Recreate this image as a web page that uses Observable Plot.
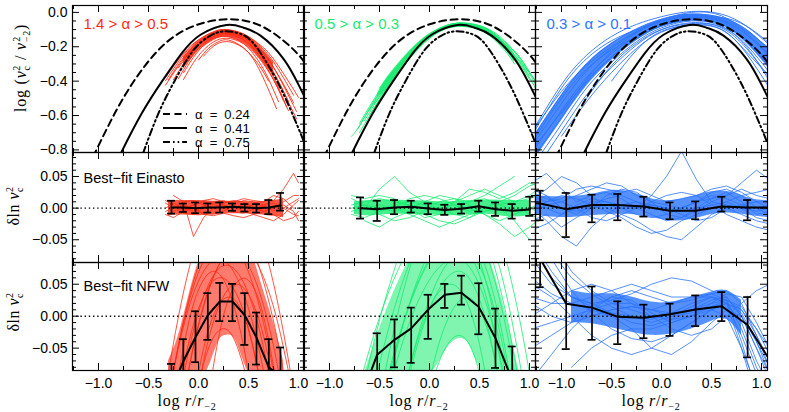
<!DOCTYPE html>
<html>
<head>
<meta charset="utf-8">
<script src="https://cdn.jsdelivr.net/npm/d3@7"></script>
<script src="https://cdn.jsdelivr.net/npm/@observablehq/plot@0.6"></script>
<style>
html,body{margin:0;padding:0;background:#fff;}
#chart{position:relative;width:789px;height:412px;overflow:hidden;background:#fff;}
</style>
</head>
<body>
<div id="chart"></div>
<script>
// ================= DATA =================
const xDomain = [-1.26, 1.06];
const topYDomain = [-0.815, 0.04];
const midYDomain = [-0.086, 0.088];
const botYDomain = [-0.085, 0.084];

const xMajorTicks = [-1.0, -0.5, 0, 0.5, 1.0];
const xMinorTicks = [-1.25, -0.75, -0.25, 0.25, 0.75];
const xTickLabels = ["−1.0", "−0.5", "0.0", "0.5", "1.0"];
const topYMajor = [0, -0.2, -0.4, -0.6, -0.8];
const topYLabels = ["0.0", "−0.2", "−0.4", "−0.6", "−0.8"];
const topYMinor = [-0.75, -0.7, -0.65, -0.55, -0.5, -0.45, -0.35, -0.3, -0.25, -0.15, -0.1, -0.05];
const resYMajor = [0.05, 0, -0.05];
const resYLabels = ["0.05", "0.00", "−0.05"];
const resYMinor = [-0.08, -0.07, -0.06, -0.04, -0.03, -0.02, -0.01, 0.01, 0.02, 0.03, 0.04, 0.06, 0.07, 0.08];

const panelLabels = ["1.4 > α > 0.5", "0.5 > α > 0.3", "0.3 > α > 0.1"];
const rowLabels = ["Best−fit Einasto", "Best−fit NFW"];
const legendLabels = ["α = 0.24", "α = 0.41", "α = 0.75"];

// Einasto template curves (top row, same in every column)
const alpha024X = [-1.26, -1.04, -0.84, -0.62, -0.35, -0.05, 0.29, 0.63, 0.92, 1.06];
const alpha024Y = [-1.08, -0.823, -0.59, -0.378, -0.19, -0.08, -0.04, -0.08, -0.2, -0.29];
const alpha041X = [-0.85, -0.78, -0.57, -0.36, -0.17, 0.02, 0.28, 0.45, 0.62, 0.85, 1.0, 1.06];
const alpha041Y = [-0.91, -0.824, -0.59, -0.397, -0.24, -0.13, -0.073, -0.089, -0.135, -0.27, -0.42, -0.49];
const alpha075X = [-0.62, -0.557, -0.41, -0.24, -0.05, 0.12, 0.26, 0.42, 0.55, 0.70, 0.87, 1.06];
const alpha075Y = [-0.925, -0.824, -0.6, -0.40, -0.22, -0.135, -0.11, -0.125, -0.18, -0.31, -0.50, -0.76];

// top-left: individual halo curves (1.4 > alpha > 0.5)
const redFitLines = [
 [[-0.33,-0.398],[-0.15,-0.248],[0,-0.162],[0.15,-0.114],[0.28,-0.10],[0.45,-0.125],[0.6,-0.187],[0.75,-0.288],[0.95,-0.482]],
 [[-0.3,-0.391],[-0.15,-0.262],[0,-0.171],[0.15,-0.119],[0.28,-0.105],[0.45,-0.127],[0.6,-0.182],[0.75,-0.271],[1.0,-0.494]],
 [[-0.25,-0.391],[-0.1,-0.254],[0,-0.188],[0.15,-0.127],[0.28,-0.11],[0.45,-0.138],[0.6,-0.207],[0.75,-0.32],[0.98,-0.576]],
 [[-0.2,-0.322],[-0.1,-0.245],[0,-0.185],[0.15,-0.13],[0.28,-0.115],[0.45,-0.145],[0.6,-0.222],[0.75,-0.347],[0.9,-0.518]],
 [[-0.2,-0.385],[-0.1,-0.286],[0,-0.21],[0.15,-0.14],[0.28,-0.12],[0.45,-0.146],[0.6,-0.212],[0.75,-0.319],[0.95,-0.524]],
 [[-0.33,-0.423],[-0.15,-0.273],[0,-0.187],[0.15,-0.139],[0.28,-0.125],[0.45,-0.16],[0.6,-0.247],[0.75,-0.39],[0.85,-0.515]],
 [[-0.15,-0.352],[-0.05,-0.261],[0.05,-0.193],[0.15,-0.15],[0.28,-0.13],[0.45,-0.159],[0.6,-0.232],[0.75,-0.351],[0.98,-0.62]],
 [[-0.1,-0.284],[0,-0.218],[0.15,-0.157],[0.28,-0.14],[0.45,-0.181],[0.6,-0.283],[0.7,-0.387],[0.8,-0.519]],
 [[-0.15,-0.391],[-0.05,-0.292],[0.05,-0.219],[0.15,-0.172],[0.28,-0.15],[0.45,-0.182],[0.6,-0.262],[0.75,-0.393],[0.9,-0.572]],
 [[0,-0.277],[0.1,-0.209],[0.2,-0.17],[0.3,-0.161],[0.45,-0.206],[0.6,-0.324],[0.78,-0.56]],
 [[0.05,-0.255],[0.15,-0.197],[0.28,-0.17],[0.45,-0.208],[0.6,-0.303],[0.7,-0.399]],
 [[-0.33,-0.379],[-0.15,-0.239],[0,-0.159],[0.15,-0.113],[0.28,-0.10],[0.45,-0.136],[0.6,-0.228],[0.75,-0.376],[0.88,-0.55]]
];
const redCoreX = [-0.15, 0, 0.15, 0.28, 0.45, 0.6, 0.75];
const redCoreHi = [-0.26, -0.17, -0.12, -0.105, -0.13, -0.19, -0.29];
const redCoreLo = [-0.33, -0.22, -0.16, -0.145, -0.18, -0.26, -0.37];

// top-middle (0.5 > alpha > 0.3)
const greenFitLines = [
 [[-0.7,-0.645],[-0.5,-0.455],[-0.3,-0.297],[-0.1,-0.17],[0.1,-0.093],[0.28,-0.063],[0.45,-0.075],[0.6,-0.105],[0.75,-0.18],[0.9,-0.26],[1.06,-0.42]],
 [[-0.6,-0.57],[-0.5,-0.48],[-0.3,-0.32],[-0.1,-0.185],[0.1,-0.10],[0.28,-0.068],[0.45,-0.08],[0.6,-0.118],[0.75,-0.2],[0.9,-0.30],[1.0,-0.39]],
 [[-0.7,-0.70],[-0.5,-0.505],[-0.3,-0.335],[-0.1,-0.195],[0.1,-0.105],[0.28,-0.075],[0.45,-0.085],[0.6,-0.12],[0.75,-0.195],[0.88,-0.28]],
 [[-0.5,-0.44],[-0.3,-0.30],[-0.1,-0.175],[0.1,-0.095],[0.28,-0.062],[0.45,-0.07],[0.6,-0.105],[0.75,-0.17],[0.9,-0.26],[1.06,-0.40]],
 [[-0.55,-0.53],[-0.3,-0.345],[-0.1,-0.2],[0.1,-0.11],[0.28,-0.08],[0.45,-0.09],[0.6,-0.135],[0.75,-0.22],[0.85,-0.30]],
 [[-0.78,-0.72],[-0.7,-0.66],[-0.5,-0.47],[-0.3,-0.31],[-0.1,-0.18],[0.1,-0.1],[0.28,-0.07],[0.45,-0.078],[0.6,-0.115],[0.75,-0.19],[0.9,-0.285],[1.0,-0.37]],
 [[-0.45,-0.46],[-0.3,-0.34],[-0.1,-0.205],[0.1,-0.112],[0.28,-0.082],[0.45,-0.092],[0.6,-0.13],[0.75,-0.2],[0.9,-0.29],[1.06,-0.44]],
 [[-0.65,-0.63],[-0.5,-0.49],[-0.3,-0.325],[-0.1,-0.19],[0.1,-0.10],[0.28,-0.065],[0.45,-0.07],[0.6,-0.1],[0.75,-0.165],[0.9,-0.27],[1.06,-0.40]],
 [[-0.6,-0.60],[-0.5,-0.51],[-0.3,-0.34],[-0.1,-0.198],[0.1,-0.108],[0.28,-0.078],[0.45,-0.088],[0.6,-0.128],[0.75,-0.21],[0.82,-0.26]],
 [[-0.72,-0.68],[-0.5,-0.465],[-0.3,-0.305],[-0.1,-0.178],[0.1,-0.098],[0.28,-0.066],[0.45,-0.076],[0.6,-0.112],[0.75,-0.185],[0.9,-0.28],[0.98,-0.34]]
];
const greenCoreX = [-0.52, -0.45, -0.3, -0.1, 0.1, 0.28, 0.45, 0.6, 0.75, 0.85];
const greenCoreHi = [-0.475, -0.4, -0.29, -0.17, -0.093, -0.063, -0.072, -0.106, -0.175, -0.24];
const greenCoreLo = [-0.49, -0.46, -0.345, -0.2, -0.108, -0.078, -0.089, -0.13, -0.21, -0.29];

// top-right (0.3 > alpha > 0.1)
const blueFitX = [-1.3, -1.0, -0.75, -0.5, -0.25, 0, 0.3, 0.6, 0.85, 1.08];
const blueFitLines = [
 [-0.70, -0.42, -0.25, -0.14, -0.07, -0.025, 0.005, -0.01, -0.08, -0.19],
 [-0.74, -0.48, -0.30, -0.18, -0.095, -0.04, -0.01, -0.03, -0.10, -0.22],
 [-0.78, -0.53, -0.34, -0.21, -0.115, -0.055, -0.02, -0.045, -0.13, -0.26],
 [-0.82, -0.57, -0.38, -0.24, -0.135, -0.065, -0.03, -0.055, -0.15, -0.29],
 [-0.86, -0.61, -0.41, -0.26, -0.15, -0.075, -0.04, -0.065, -0.17, -0.32],
 [-0.90, -0.65, -0.44, -0.29, -0.17, -0.09, -0.05, -0.08, -0.19, -0.35],
 [-0.95, -0.69, -0.48, -0.32, -0.19, -0.10, -0.06, -0.09, -0.21, -0.38],
 [null, -0.72, -0.52, -0.35, -0.21, -0.115, -0.07, -0.10, -0.23, -0.37],
 [-0.72, -0.44, -0.27, -0.165, -0.10, -0.05, -0.025, -0.05, -0.13, -0.25],
 [-0.80, -0.58, -0.40, -0.26, -0.155, -0.08, -0.035, -0.03, -0.08, -0.18],
 [null, -0.59, -0.39, -0.23, -0.12, -0.045, 0.0, -0.02, -0.12, -0.24],
 [-0.76, -0.50, -0.33, -0.22, -0.14, -0.08, -0.045, -0.07, -0.16, -0.30],
 [null, null, -0.5, -0.31, -0.18, -0.1, -0.065, -0.085, -0.2, -0.40],
 [-0.70, -0.46, -0.31, -0.20, -0.11, -0.05, -0.015, -0.04, -0.11, -0.21],
 [null, null, null, -0.40, -0.22, -0.11, -0.075, -0.10, -0.24, -0.44]
];
const blueCoreX = [-1.3, -1.0, -0.75, -0.5, -0.25, 0, 0.3, 0.6, 0.85, 1.08];
const blueCoreHi = [-0.74, -0.48, -0.30, -0.18, -0.10, -0.04, -0.01, -0.03, -0.10, -0.22];
const blueCoreLo = [-0.88, -0.63, -0.43, -0.28, -0.165, -0.085, -0.05, -0.075, -0.18, -0.33];

// middle row: residuals w.r.t. best-fit Einasto
const redEinX = [-0.33, -0.25, -0.15, -0.05, 0.05, 0.15, 0.25, 0.35, 0.45, 0.55, 0.65, 0.75, 0.85, 0.95, 1.0];
const redEinLines = [
 [0.0, 0.008, 0.0, -0.005, 0.003, 0.01, 0.005, -0.002, 0.0, 0.006, 0.003, -0.004, 0.0, 0.01, 0.015],
 [-0.01, -0.015, -0.005, 0.005, 0.01, 0.006, 0.0, -0.006, -0.008, -0.002, 0.004, 0.008, 0.0, -0.01, -0.012],
 [null, 0.02, 0.01, -0.045, -0.015, 0.0, 0.005, 0.0, 0.005, 0.0, -0.005, 0.0, 0.01, 0.02, 0.02],
 [0.008, 0.0, 0.01, 0.012, 0.005, 0.0, 0.008, 0.012, 0.01, 0.002, -0.005, -0.01, -0.02, -0.015, -0.005],
 [null, null, -0.005, 0.0, -0.008, -0.01, -0.005, 0.005, 0.012, 0.01, 0.005, 0.012, 0.03, 0.055, 0.04],
 [0.012, 0.005, -0.008, -0.01, 0.0, 0.008, 0.012, 0.005, -0.005, -0.01, -0.006, 0.0, 0.005, -0.005, -0.02],
 [null, -0.005, 0.0, 0.005, 0.012, 0.015, 0.01, 0.01, 0.015, 0.012, 0.01, 0.02, 0.015, 0.0, null],
 [-0.005, 0.0, 0.005, 0.0, -0.01, -0.012, -0.008, -0.012, -0.015, -0.01, -0.015, -0.02, -0.01, 0.005, 0.012]
];
const redEinCoreX = [-0.3, -0.15, 0, 0.15, 0.3, 0.45, 0.6, 0.75, 0.85];
const redEinCoreHi = [0.012, 0.012, 0.012, 0.011, 0.011, 0.01, 0.01, 0.012, 0.015];
const redEinCoreLo = [-0.012, -0.011, -0.012, -0.01, -0.009, -0.009, -0.01, -0.013, -0.015];
const redBarX = [-0.27, -0.152, -0.03, 0.093, 0.213, 0.34, 0.463, 0.58, 0.703, 0.82];
const redEinMean = [0.001, 0.001, 0.0, 0.001, 0.001, 0.002, 0.001, 0.0, 0.001, 0.004];
const redEinLo = [-0.0086, -0.006, -0.008, -0.007, -0.007, -0.0043, -0.0054, -0.007, -0.0096, -0.004];
const redEinHi = [0.0117, 0.0073, 0.009, 0.0074, 0.009, 0.0074, 0.0064, 0.0064, 0.0128, 0.024];

const greenEinX = [-0.78, -0.65, -0.5, -0.35, -0.2, -0.05, 0.1, 0.25, 0.4, 0.55, 0.7, 0.85, 1.0, 1.08];
const greenEinLines = [
 [0.005, 0.01, 0.015, 0.01, 0.005, 0.0, -0.005, 0.0, 0.01, 0.015, 0.005, -0.005, 0.0, 0.005],
 [-0.01, -0.015, -0.005, 0.005, 0.01, 0.005, 0.0, -0.01, -0.015, -0.005, 0.005, 0.01, 0.015, 0.02],
 [null, 0.0, 0.03, 0.05, 0.025, 0.01, 0.005, 0.01, 0.02, 0.03, 0.02, 0.01, 0.02, 0.03],
 [0.015, 0.005, -0.01, -0.02, -0.015, -0.005, 0.0, 0.005, 0.0, -0.01, -0.025, -0.045, -0.03, -0.02],
 [null, null, -0.005, 0.0, 0.015, 0.02, 0.015, 0.005, -0.005, 0.0, 0.01, 0.02, 0.035, 0.04],
 [0.0, 0.005, 0.0, -0.005, 0.0, 0.01, 0.02, 0.015, 0.005, -0.01, -0.02, -0.01, 0.0, -0.005],
 [null, -0.02, -0.03, -0.015, -0.005, -0.01, -0.02, -0.025, -0.015, 0.0, 0.01, 0.005, -0.01, -0.015],
 [0.02, 0.015, 0.02, 0.015, 0.0, -0.015, -0.01, 0.01, 0.03, 0.025, 0.015, 0.025, 0.04, 0.035],
 [null, null, null, 0.01, 0.005, 0.0, 0.01, 0.015, 0.01, 0.02, 0.035, 0.05, null, null],
 [-0.005, 0.0, 0.005, 0.0, -0.01, -0.02, -0.03, -0.02, -0.01, -0.005, 0.0, -0.02, -0.05, null]
];
const greenEinCoreX = [-0.75, -0.6, -0.4, -0.2, 0.0, 0.2, 0.4, 0.6, 0.8, 1.0];
const greenEinCoreHi = [0.01, 0.012, 0.013, 0.012, 0.011, 0.01, 0.012, 0.013, 0.012, 0.012];
const greenEinCoreLo = [-0.01, -0.012, -0.01, -0.01, -0.011, -0.012, -0.011, -0.01, -0.014, -0.012];
const greenBarX = [-0.69, -0.523, -0.35, -0.183, -0.013, 0.153, 0.32, 0.493, 0.66, 0.827, 1.003];
const greenEinMean = [0.0, -0.0016, 0.001, 0.002, -0.0006, -0.003, -0.001, 0.003, -0.0016, -0.004, -0.002];
const greenEinLo = [-0.0166, -0.0203, -0.0096, -0.007, -0.0096, -0.0107, -0.0086, -0.0054, -0.0123, -0.0166, -0.0123];
const greenEinHi = [0.017, 0.0117, 0.0128, 0.0117, 0.0074, 0.0053, 0.0064, 0.0117, 0.009, 0.0064, 0.018];

const blueEinX = [-1.3, -1.15, -1.0, -0.85, -0.7, -0.55, -0.4, -0.25, -0.1, 0.05, 0.2, 0.35, 0.5, 0.65, 0.8, 0.95, 1.08];
const blueEinLines = [
 [0.01, 0.02, 0.0, -0.01, 0.005, 0.015, 0.02, 0.01, 0.0, -0.005, 0.0, 0.01, 0.02, 0.015, 0.005, 0.0, 0.005],
 [-0.02, -0.01, -0.03, -0.015, 0.0, 0.02, 0.03, 0.025, 0.01, -0.01, -0.015, 0.0, 0.015, 0.025, 0.01, -0.01, -0.005],
 [0.04, 0.055, 0.03, 0.01, 0.02, 0.025, 0.015, 0.0, -0.01, -0.02, -0.015, -0.005, 0.01, 0.02, 0.03, 0.02, 0.015],
 [0.0, -0.02, -0.045, -0.06, -0.03, -0.01, 0.005, 0.01, 0.005, 0.0, -0.005, 0.0, 0.005, 0.01, 0.0, -0.015, -0.02],
 [0.02, 0.01, 0.015, 0.03, 0.035, 0.03, 0.025, 0.03, 0.02, 0.01, 0.015, 0.02, 0.03, 0.035, 0.025, 0.01, 0.0],
 [-0.01, 0.005, 0.01, 0.0, -0.015, -0.02, -0.01, -0.02, -0.035, -0.045, -0.05, -0.03, -0.01, 0.0, -0.01, -0.02, -0.025],
 [0.005, 0.0, -0.01, 0.0, 0.01, 0.01, 0.0, 0.0, 0.02, 0.05, 0.09, 0.045, 0.01, 0.005, 0.0, -0.005, 0.0],
 [0.03, 0.02, 0.0, -0.005, 0.0, 0.005, 0.0, -0.01, -0.015, -0.01, 0.0, 0.01, 0.015, 0.02, 0.04, 0.06, 0.045],
 [-0.035, -0.025, -0.01, 0.005, 0.015, 0.01, 0.005, 0.0, 0.005, 0.0, -0.01, -0.02, -0.015, 0.0, 0.005, 0.01, 0.01],
 [0.015, 0.03, 0.05, 0.04, 0.02, 0.0, -0.01, 0.0, 0.01, 0.02, 0.025, 0.02, 0.005, -0.01, -0.02, -0.03, -0.035],
 [0.0, 0.01, 0.02, 0.015, 0.005, -0.005, -0.015, -0.03, -0.04, -0.035, -0.02, -0.01, 0.0, 0.01, 0.02, 0.025, 0.03],
 [0.025, 0.015, 0.01, 0.02, 0.03, 0.04, 0.035, 0.02, 0.01, 0.005, 0.0, 0.01, 0.025, 0.03, 0.02, 0.0, -0.01]
];
const blueEinCoreX = [-1.3, -1.0, -0.7, -0.5, -0.3, -0.1, 0.1, 0.3, 0.5, 0.7, 0.9, 1.08];
const blueEinCoreHi = [0.02, 0.018, 0.022, 0.028, 0.025, 0.015, 0.012, 0.018, 0.026, 0.025, 0.015, 0.012];
const blueEinCoreLo = [-0.01, -0.015, -0.012, -0.01, -0.01, -0.015, -0.02, -0.018, -0.01, -0.008, -0.012, -0.015];
const blueBarX = [-1.47, -1.214, -0.953, -0.695, -0.437, -0.176, 0.085, 0.342, 0.603, 0.861, 1.12];
const blueEinMean = [0.009, 0.0074, -0.0016, 0.0048, 0.0048, 0.0026, -0.0043, -0.0043, 0.0026, 0.001, 0.001];
const blueEinLo = [-0.02, -0.0192, -0.0458, -0.0224, -0.0192, -0.0134, -0.0176, -0.0176, -0.0054, -0.0192, -0.02];
const blueEinHi = [0.04, 0.0276, 0.024, 0.0212, 0.0224, 0.018, 0.009, 0.0106, 0.018, 0.0128, 0.02];

// bottom row: residuals w.r.t. best-fit NFW
const redNfwX = [-0.4, -0.25, -0.1, 0.05, 0.2, 0.35, 0.5, 0.65, 0.8, 0.95];
const redNfwLines = [
 [-0.188, -0.042, 0.071, 0.148, 0.191, 0.199, 0.172, 0.111, 0.015, -0.115],
 [-0.232, -0.086, 0.025, 0.101, 0.142, 0.148, 0.119, 0.054, -0.045, -0.18],
 [-0.226, -0.085, 0.020, 0.087, 0.118, 0.112, 0.069, -0.011, -0.128, null],
 [null, -0.231, -0.086, 0.017, 0.079, 0.10, 0.079, 0.017, -0.086, -0.231],
 [null, -0.184, -0.056, 0.030, 0.074, 0.075, 0.035, -0.049, -0.174, null],
 [null, -0.163, -0.043, 0.031, 0.060, 0.043, -0.019, -0.127, null, null],
 [null, null, -0.206, -0.071, 0.014, 0.049, 0.034, -0.031, -0.146, null],
 [null, null, -0.176, -0.051, 0.017, 0.027, -0.022, -0.128, null, null],
 [null, null, -0.189, -0.075, -0.023, -0.034, -0.106, null, null, null],
 [-0.223, -0.086, 0.012, 0.070, 0.09, 0.070, 0.012, -0.086, -0.223, null],
 [null, -0.22, -0.085, 0.014, 0.079, 0.108, 0.102, 0.061, -0.015, -0.126],
 [null, null, null, -0.18, -0.034, 0.045, 0.056, 0.0, -0.124, null],
 [null, -0.138, -0.011, 0.057, 0.067, 0.018, -0.089, -0.255, null, null]
];
const redNfwCoreX = [-0.3, -0.2, -0.1, 0.0, 0.1, 0.2, 0.28, 0.36, 0.45, 0.55, 0.65, 0.75, 0.85];
const redNfwCoreHi = [-0.07, -0.03, 0.03, 0.085, 0.12, 0.14, 0.145, 0.14, 0.12, 0.09, 0.04, -0.01, -0.07];
const redNfwCoreLo = [-0.1, -0.1, -0.1, -0.1, -0.08, -0.04, -0.03, -0.035, -0.07, -0.1, -0.1, -0.1, -0.1];
const redNfwMean = [-0.115, -0.0706, -0.033, 0.0015, 0.023, 0.023, 0.0015, -0.0335, -0.08, -0.095];
const redNfwLo = [-0.155, -0.105, -0.072, -0.037, -0.0077, -0.0077, -0.045, -0.0757, -0.12, -0.14];
const redNfwHi = [-0.0747, -0.036, 0.0077, 0.036, 0.052, 0.0505, 0.036, 0.0057, -0.036, -0.049];

const greenNfwX = [-0.7, -0.55, -0.4, -0.25, -0.1, 0.05, 0.2, 0.35, 0.5, 0.65, 0.8, 0.95, 1.1];
const greenNfwLines = [
 [-0.14, -0.037, 0.049, 0.118, 0.171, 0.207, 0.226, 0.228, 0.204, 0.150, 0.067, -0.045, -0.186],
 [-0.223, -0.109, -0.014, 0.062, 0.119, 0.158, 0.177, 0.176, 0.144, 0.077, -0.023, -0.157, null],
 [-0.349, -0.213, -0.099, -0.006, 0.065, 0.115, 0.143, 0.149, 0.122, 0.057, -0.046, -0.187, null],
 [null, -0.20, -0.091, -0.005, 0.059, 0.10, 0.119, 0.111, 0.064, -0.024, -0.152, null, null],
 [null, null, -0.238, -0.116, -0.022, 0.046, 0.087, 0.10, 0.078, 0.01, -0.103, -0.26, null],
 [null, null, -0.249, -0.127, -0.034, 0.029, 0.064, 0.067, 0.026, -0.065, -0.205, null, null],
 [null, null, -0.238, -0.116, -0.027, 0.028, 0.050, 0.030, -0.044, -0.172, null, null, null],
 [null, null, null, null, -0.177, -0.068, 0.001, 0.029, 0.011, -0.065, -0.199, null, null],
 [null, null, null, null, -0.19, -0.093, -0.04, -0.034, -0.09, -0.214, null, null, null],
 [-0.328, -0.179, -0.054, 0.046, 0.121, 0.171, 0.196, 0.197, 0.166, 0.104, 0.011, -0.114, null],
 [-0.294, -0.18, -0.083, -0.005, 0.056, 0.099, 0.123, 0.130, 0.101, 0.028, -0.091, -0.254, null],
 [-0.333, -0.213, -0.112, -0.032, 0.028, 0.068, 0.088, 0.085, 0.048, -0.026, -0.135, null, null],
 [-0.107, -0.026, 0.041, 0.093, 0.130, 0.153, 0.16, 0.142, 0.088, -0.002, -0.128, null, null]
];
const greenNfwCoreX = [-0.65, -0.5, -0.35, -0.2, -0.05, 0.1, 0.2, 0.3, 0.4, 0.5, 0.6, 0.7, 0.8, 0.9];
const greenNfwCoreHi = [-0.09, -0.02, 0.04, 0.09, 0.13, 0.15, 0.16, 0.16, 0.15, 0.13, 0.09, 0.04, -0.02, -0.09];
const greenNfwCoreLo = [-0.1, -0.1, -0.1, -0.1, -0.1, -0.07, -0.045, -0.035, -0.045, -0.08, -0.1, -0.1, -0.1, -0.1];
const greenNfwMean = [-0.13, -0.0603, -0.037, -0.019, 0.0103, 0.0335, 0.0366, 0.0144, -0.0345, -0.10, -0.2];
const greenNfwLo = [-0.17, -0.094, -0.08, -0.073, -0.0355, 0.0129, 0.018, -0.0283, -0.081, -0.15, -0.26];
const greenNfwHi = [-0.09, -0.0268, -0.0051, 0.0134, 0.0335, 0.0505, 0.0634, 0.0515, 0.0119, -0.0474, -0.14];

const blueNfwX = [-1.3, -1.1, -0.9, -0.7, -0.5, -0.3, -0.1, 0.1, 0.3, 0.5, 0.65, 0.8, 0.95, 1.08];
const blueNfwLines = [
 [0.09, 0.05, 0.03, 0.02, 0.005, -0.01, -0.015, -0.005, 0.01, 0.025, 0.03, 0.0, -0.05, -0.09],
 [null, 0.1, 0.06, 0.035, 0.015, 0.0, -0.01, 0.0, 0.015, 0.03, 0.025, -0.02, -0.08, -0.12],
 [0.02, 0.0, -0.01, 0.0, 0.01, 0.015, 0.01, 0.005, 0.01, 0.02, 0.025, 0.01, -0.03, -0.07],
 [-0.05, -0.03, -0.01, 0.015, 0.03, 0.025, 0.005, -0.01, 0.0, 0.02, 0.035, 0.03, -0.01, -0.05],
 [0.15, 0.09, 0.04, 0.005, -0.02, -0.035, -0.04, -0.03, -0.01, 0.01, 0.02, -0.01, -0.07, -0.11],
 [-0.1, -0.06, -0.02, 0.01, 0.03, 0.04, 0.03, 0.02, 0.025, 0.035, 0.04, 0.02, -0.03, -0.08],
 [0.06, 0.035, 0.02, 0.01, 0.0, -0.02, -0.05, -0.06, -0.04, -0.01, 0.01, 0.0, -0.04, -0.09],
 [0.12, 0.07, 0.03, 0.02, 0.025, 0.035, 0.05, 0.06, 0.055, 0.04, 0.03, 0.0, -0.05, -0.1],
 [-0.02, -0.01, 0.0, 0.01, 0.02, 0.02, 0.01, 0.0, 0.005, 0.015, 0.025, 0.015, -0.02, -0.06],
 [0.03, 0.02, 0.02, 0.03, 0.04, 0.05, 0.04, 0.03, 0.03, 0.03, 0.02, -0.03, -0.09, null],
 [null, null, -0.08, -0.05, -0.03, -0.02, -0.02, -0.01, 0.0, 0.015, 0.02, 0.005, -0.04, -0.08],
 [0.2, 0.12, 0.07, 0.04, 0.02, 0.01, 0.0, -0.005, 0.0, 0.01, 0.0, -0.05, -0.11, null],
 [0.0, 0.02, 0.04, 0.05, 0.04, 0.02, 0.0, -0.02, -0.03, -0.02, 0.0, 0.02, 0.04, 0.05],
 [0.05, 0.03, 0.0, -0.03, -0.05, -0.06, -0.05, -0.03, -0.01, 0.01, 0.02, 0.01, -0.02, -0.05],
 [null, null, null, 0.0, 0.01, 0.015, 0.01, 0.02, 0.03, 0.035, 0.025, -0.04, -0.12, null],
 [0.11, 0.06, 0.03, 0.015, 0.005, 0.0, -0.005, 0.005, 0.02, 0.03, 0.02, -0.05, -0.13, null]
];
const blueNfwCoreX = [-0.9, -0.7, -0.5, -0.3, -0.1, 0.1, 0.3, 0.5, 0.65, 0.8];
const blueNfwCoreHi = [0.04, 0.035, 0.035, 0.03, 0.022, 0.022, 0.03, 0.038, 0.04, 0.025];
const blueNfwCoreLo = [-0.01, -0.012, -0.018, -0.025, -0.03, -0.028, -0.02, -0.008, -0.005, -0.03];
const blueNfwBarX = [-1.214, -0.953, -0.695, -0.437, -0.176, 0.085, 0.342, 0.603, 0.861, 1.12];
const blueNfwMean = [0.09, 0.0196, 0.0134, -0.001, -0.0026, 0.003, 0.0103, 0.0155, -0.0139, -0.078];
const blueNfwLo = [0.0453, -0.0515, -0.037, -0.0438, -0.0345, -0.0309, -0.0155, -0.0077, -0.0644, -0.12];
const blueNfwHi = [0.135, 0.091, 0.0464, 0.0232, 0.018, 0.0196, 0.0325, 0.0376, 0.0299, -0.03];

// ================= STYLE / LAYOUT =================
const COLORS = ["#ff2a14", "#16ec70", "#2b74ff"];
const colLeft = [72, 303, 535];
const colWidth = 232;
const rowTop = [5, 152, 262];
const rowHeight = [147, 110, 108];
const CAP = 0.04;

// ================= HELPERS =================
const gridRows = (xs, lines) => lines.flatMap((ys, id) => ys.map((y, j) => ({id, x: xs[j], y})).filter(d => d.y != null));
const pairRows = (lines) => lines.flatMap((pts, id) => pts.map(([x, y]) => ({id, x, y})));
const bandRows = (xs, lo, hi) => xs.map((x, i) => ({x, lo: lo[i], hi: hi[i]}));
const barRows = (xs, mean, lo, hi) => xs.map((x, i) => ({x, mean: mean[i], lo: lo[i], hi: hi[i]}));
const curveRows = (xs, ys) => xs.map((x, i) => ({x, y: ys[i]}));

const chart = document.getElementById("chart");

function frameMarks(H, W, yMaj, yMin) {
  return [
    Plot.tickX(xMajorTicks, {x: d => d, insetTop: H - 7, stroke: "black"}),
    Plot.tickX(xMajorTicks, {x: d => d, insetBottom: H - 7, stroke: "black"}),
    Plot.tickX(xMinorTicks, {x: d => d, insetTop: H - 4, stroke: "black"}),
    Plot.tickX(xMinorTicks, {x: d => d, insetBottom: H - 4, stroke: "black"}),
    Plot.tickY(yMaj, {y: d => d, insetRight: W - 7, stroke: "black"}),
    Plot.tickY(yMaj, {y: d => d, insetLeft: W - 7, stroke: "black"}),
    Plot.tickY(yMin, {y: d => d, insetRight: W - 4, stroke: "black"}),
    Plot.tickY(yMin, {y: d => d, insetLeft: W - 4, stroke: "black"}),
    Plot.frame({stroke: "black", strokeWidth: 1.2})
  ];
}

function addPanel(col, row, yDomain, marks) {
  const W = colWidth, H = rowHeight[row];
  const svg = Plot.plot({
    width: W, height: H, margin: 0,
    x: {domain: xDomain, axis: null},
    y: {domain: yDomain, axis: null},
    style: {background: "transparent", overflow: "visible", fontFamily: "'Liberation Sans', Arial, sans-serif", fontSize: "14px", color: "black"},
    marks: marks.filter(Boolean)
  });
  svg.style.position = "absolute";
  svg.style.left = colLeft[col] + "px";
  svg.style.top = rowTop[row] + "px";
  svg.style.overflow = "visible";
  svg.style.maxWidth = "none";
  chart.appendChild(svg);
}

function modelMarks() {
  return [
    Plot.line(curveRows(alpha024X, alpha024Y), {x: "x", y: "y", stroke: "black", strokeWidth: 2, strokeDasharray: "7,4.5", curve: "natural", clip: true}),
    Plot.line(curveRows(alpha041X, alpha041Y), {x: "x", y: "y", stroke: "black", strokeWidth: 2, curve: "natural", clip: true}),
    Plot.line(curveRows(alpha075X, alpha075Y), {x: "x", y: "y", stroke: "black", strokeWidth: 2, strokeDasharray: "7,3,1.6,3,1.6,3", curve: "natural", clip: true})
  ];
}

function yLabelMarks(ticks, labels) {
  return Plot.text(ticks, {y: d => d, text: (d, i) => labels[i], frameAnchor: "left", textAnchor: "end", dx: -5, fontSize: 14, fill: "black"});
}
function xLabelMarks() {
  return Plot.text(xMajorTicks, {x: d => d, text: (d, i) => xTickLabels[i], frameAnchor: "bottom", lineAnchor: "top", dy: 8, fontSize: 14, fill: "black"});
}

function residualMarks(color, band, lines, bars, curve, bandOpacity) {
  return [
    band ? Plot.areaY(band, {x: "x", y1: "lo", y2: "hi", fill: color, fillOpacity: bandOpacity, curve: "natural", clip: true}) : null,
    Plot.line(lines, {x: "x", y: "y", z: "id", stroke: color, strokeWidth: 0.8, curve, clip: true}),
    Plot.ruleY([0], {stroke: "black", strokeWidth: 1.4, strokeDasharray: "1.4,2.8"}),
    Plot.line(bars, {x: "x", y: "mean", stroke: "black", strokeWidth: 2, clip: true}),
    Plot.ruleX(bars, {x: "x", y1: "lo", y2: "hi", stroke: "black", strokeWidth: 1.7, clip: true}),
    Plot.ruleY(bars, {y: "lo", x1: d => d.x - CAP, x2: d => d.x + CAP, stroke: "black", strokeWidth: 1.7, clip: true}),
    Plot.ruleY(bars, {y: "hi", x1: d => d.x - CAP, x2: d => d.x + CAP, stroke: "black", strokeWidth: 1.7, clip: true})
  ];
}

// ================= TOP ROW =================
const fitSets = [
  {band: bandRows(redCoreX, redCoreLo, redCoreHi), lines: pairRows(redFitLines)},
  {band: bandRows(greenCoreX, greenCoreLo, greenCoreHi), lines: pairRows(greenFitLines)},
  {band: bandRows(blueCoreX, blueCoreLo, blueCoreHi), lines: gridRows(blueFitX, blueFitLines)}
];
fitSets.forEach((s, c) => {
  addPanel(c, 0, topYDomain, [
    Plot.areaY(s.band, {x: "x", y1: "lo", y2: "hi", fill: COLORS[c], fillOpacity: 0.85, curve: "natural", clip: true}),
    Plot.line(s.lines, {x: "x", y: "y", z: "id", stroke: COLORS[c], strokeWidth: 0.9, curve: "natural", clip: true}),
    ...modelMarks(),
    ...frameMarks(rowHeight[0], colWidth, topYMajor, topYMinor),
    Plot.text([panelLabels[c]], {frameAnchor: "top-left", dx: 11, dy: 13, text: d => d, fill: COLORS[c], fontSize: 15}),
    c === 0 ? yLabelMarks(topYMajor, topYLabels) : null
  ]);
});

// ================= MIDDLE ROW =================
const einSets = [
  residualMarks(COLORS[0], bandRows(redEinCoreX, redEinCoreLo, redEinCoreHi), gridRows(redEinX, redEinLines), barRows(redBarX, redEinMean, redEinLo, redEinHi), "linear", 0.8),
  residualMarks(COLORS[1], bandRows(greenEinCoreX, greenEinCoreLo, greenEinCoreHi), gridRows(greenEinX, greenEinLines), barRows(greenBarX, greenEinMean, greenEinLo, greenEinHi), "linear", 0.8),
  residualMarks(COLORS[2], bandRows(blueEinCoreX, blueEinCoreLo, blueEinCoreHi), gridRows(blueEinX, blueEinLines), barRows(blueBarX, blueEinMean, blueEinLo, blueEinHi), "linear", 0.8)
];
einSets.forEach((m, c) => {
  addPanel(c, 1, midYDomain, [
    ...m,
    ...frameMarks(rowHeight[1], colWidth, resYMajor, resYMinor),
    c === 0 ? Plot.text([rowLabels[0]], {frameAnchor: "top-left", dx: 11, dy: 20, text: d => d, fill: "black", fontSize: 14.5}) : null,
    c === 0 ? yLabelMarks(resYMajor, resYLabels) : null
  ]);
});

// ================= BOTTOM ROW =================
const nfwSets = [
  residualMarks(COLORS[0], bandRows(redNfwCoreX, redNfwCoreLo, redNfwCoreHi), gridRows(redNfwX, redNfwLines), barRows(redBarX, redNfwMean, redNfwLo, redNfwHi), "natural", 0.62),
  residualMarks(COLORS[1], bandRows(greenNfwCoreX, greenNfwCoreLo, greenNfwCoreHi), gridRows(greenNfwX, greenNfwLines), barRows(greenBarX, greenNfwMean, greenNfwLo, greenNfwHi), "natural", 0.55),
  residualMarks(COLORS[2], bandRows(blueNfwCoreX, blueNfwCoreLo, blueNfwCoreHi), gridRows(blueNfwX, blueNfwLines), barRows(blueNfwBarX, blueNfwMean, blueNfwLo, blueNfwHi), "linear", 0.8)
];
nfwSets.forEach((m, c) => {
  addPanel(c, 2, botYDomain, [
    ...m,
    ...frameMarks(rowHeight[2], colWidth, resYMajor, resYMinor),
    c === 0 ? Plot.text([rowLabels[1]], {frameAnchor: "top-left", dx: 11, dy: 18, text: d => d, fill: "black", fontSize: 14.5}) : null,
    c === 0 ? yLabelMarks(resYMajor, resYLabels) : null,
    xLabelMarks()
  ]);
});

// ================= TITLES & LEGEND (overlay) =================
const ov = document.createElement("div");
ov.innerHTML = `
<svg width="789" height="412" style="position:absolute;left:0;top:0;pointer-events:none" font-family="'Liberation Serif', serif" fill="black">
  <text transform="translate(26,68) rotate(-90)" text-anchor="middle" font-size="16" letter-spacing="0.8">log (<tspan font-style="italic">v</tspan><tspan font-size="10" dy="4">c</tspan><tspan font-size="10" dx="-5.5" dy="-10">2</tspan><tspan dy="6"> / </tspan><tspan font-style="italic">v</tspan><tspan font-size="10" dy="4">−2</tspan><tspan font-size="10" dx="-12" dy="-10">2</tspan><tspan dx="6" dy="6">)</tspan></text>
  <text transform="translate(19,206) rotate(-90)" text-anchor="middle" font-size="16" letter-spacing="0.5">δln <tspan font-style="italic">v</tspan><tspan font-size="10" dy="4">c</tspan><tspan font-size="10" dx="-5" dy="-10">2</tspan></text>
  <text transform="translate(19,312) rotate(-90)" text-anchor="middle" font-size="16" letter-spacing="0.5">δln <tspan font-style="italic">v</tspan><tspan font-size="10" dy="4">c</tspan><tspan font-size="10" dx="-5" dy="-10">2</tspan></text>
  ${[187, 419, 651].map(cx => `<text x="${cx}" y="406" text-anchor="middle" font-size="16" letter-spacing="0.8">log <tspan font-style="italic">r</tspan>/<tspan font-style="italic">r</tspan><tspan font-size="10" dy="4">−2</tspan></text>`).join("")}
  <g stroke="black" stroke-width="2">
    <line x1="163" x2="187" y1="114" y2="114" stroke-dasharray="7,4.5"/>
    <line x1="163" x2="187" y1="128" y2="128"/>
    <line x1="163" x2="187" y1="142" y2="142" stroke-dasharray="7,3,1.6,3,1.6,3"/>
  </g>
  <g font-family="'Liberation Sans', Arial, sans-serif" font-size="13" word-spacing="3.5">
    <text x="195" y="118.5">${legendLabels[0]}</text>
    <text x="195" y="132.5">${legendLabels[1]}</text>
    <text x="195" y="146.5">${legendLabels[2]}</text>
  </g>
</svg>`;
chart.appendChild(ov.firstElementChild);
</script>
</body>
</html>
